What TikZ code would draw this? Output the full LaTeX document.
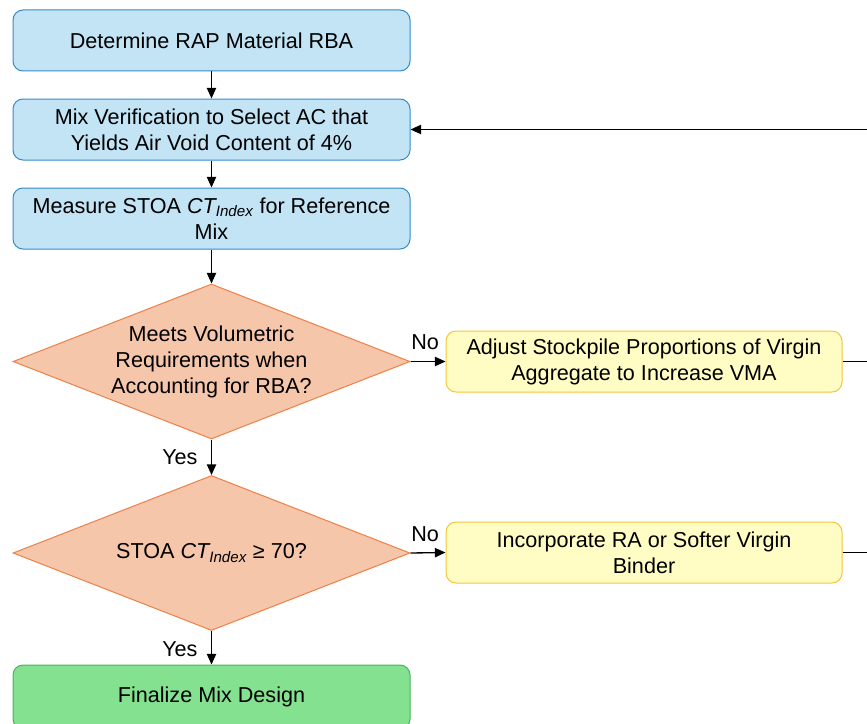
\documentclass[tikz,border=0pt]{standalone}
\usepackage{fontspec}
\setmainfont{Liberation Sans}
\usetikzlibrary{shapes.geometric,arrows.meta}
\definecolor{bfill}{RGB}{195,228,245}
\definecolor{bdraw}{RGB}{52,140,205}
\definecolor{dfill}{RGB}{246,198,170}
\definecolor{ddraw}{RGB}{238,128,70}
\definecolor{yfill}{RGB}{255,253,196}
\definecolor{ydraw}{RGB}{245,195,60}
\definecolor{gfill}{RGB}{132,225,143}
\definecolor{gdraw}{RGB}{70,180,95}
\tikzset{
  box/.style={rectangle, rounded corners=7.5pt, minimum width=397*0.75pt, minimum height=61*0.75pt, inner sep=0pt, align=center, line width=0.75pt},
  bluebox/.style={box, draw=bdraw, fill=bfill},
  yelbox/.style={box, draw=ydraw, fill=yfill, minimum width=396*0.75pt},
  grnbox/.style={box, draw=gdraw, fill=gfill, minimum height=64*0.75pt},
  dec/.style={diamond, aspect=2.56, draw=ddraw, fill=dfill, line width=0.75pt, minimum width=397*0.75pt, minimum height=155*0.75pt, inner sep=0pt, align=center},
  conn/.style={line width=1pt, -{Triangle[length=8pt,width=7pt]}},
  plain/.style={line width=1pt},
  lbl/.style={inner sep=0pt}
}
\begin{document}
\begin{tikzpicture}[x=0.75pt,y=-0.75pt, font=\fontsize{16.2}{19.5}\selectfont]
\useasboundingbox (0,0) rectangle (867,724);
\clip (0,0) rectangle (867,724);
\node[bluebox] (b1) at (211.5,40.5) {Determine RAP Material RBA};
\node[bluebox] (b2) at (211.5,129.5) {Mix Verification to Select AC that\\Yields Air Void Content of 4\%};
\node[bluebox] (b3) at (211.5,218.5) {Measure STOA \textit{CT\textsubscript{Index}} for Reference\\Mix};
\node[dec] (d1) at (211.5,361.5) {Meets Volumetric\\Requirements when\\Accounting for RBA?};
\node[yelbox] (y1) at (644,361.5) {Adjust Stockpile Proportions of Virgin\\Aggregate to Increase VMA};
\node[dec] (d2) at (211.5,553) {STOA \textit{CT\textsubscript{Index}} ≥ 70?};
\node[yelbox] (y2) at (644,552.5) {Incorporate RA or Softer Virgin\\Binder};
\node[grnbox] (g) at (211.5,697) {Finalize Mix Design};
\coordinate (loop) at (900,0);
\draw[conn] (b1) -- (b2);
\draw[conn] (b2) -- (b3);
\draw[conn] (b3) -- (d1);
\draw[conn] (d1) -- node[lbl, pos=0.5, left=10pt] {Yes} (d2);
\draw[conn] (d2) -- node[lbl, pos=0.55, left=10pt] {Yes} (g);
\draw[conn] (d1.east) -- node[lbl, pos=0.42, above=8pt] {No} (y1.west);
\draw[conn] (d2.east) -- node[lbl, pos=0.42, above=8pt] {No} (y2.west);
\draw[plain] (y1.east) -- (y1.east -| loop);
\draw[conn] (y2.east) -- (y2.east -| loop) |- (b2.east);
\end{tikzpicture}
\end{document}
